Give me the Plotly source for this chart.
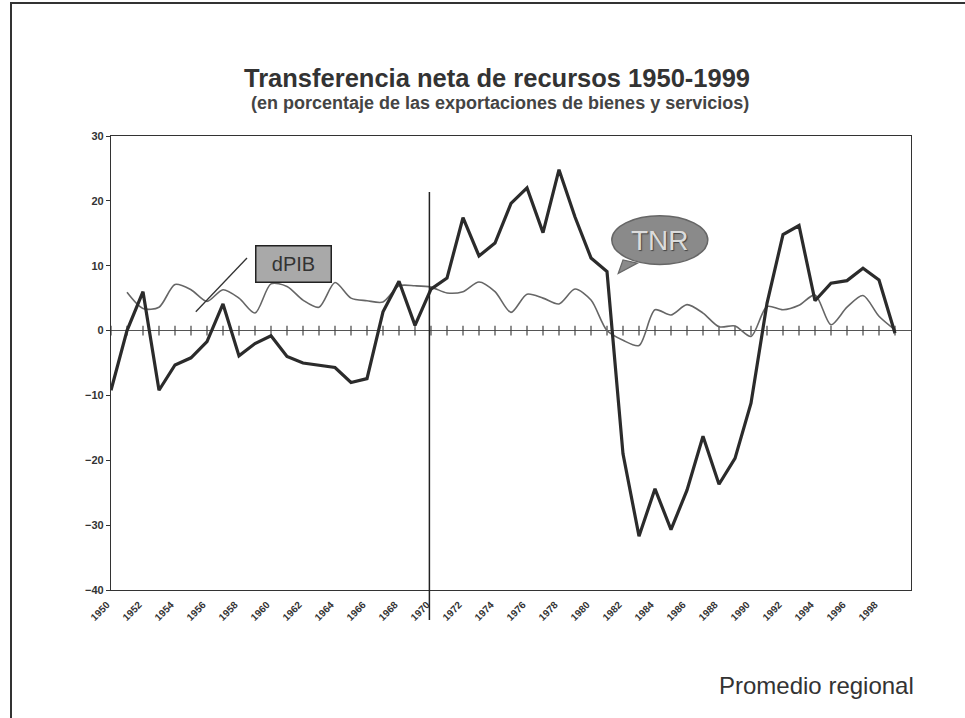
import plotly.graph_objects as go

years = list(range(1950, 2000))

tnr = [-9.2, 0.0, 6.0, -9.2, -5.3, -4.2, -1.7, 4.1, -3.9, -2.0,
       -0.8, -4.0, -5.0, -5.3, -5.7, -8.0, -7.4, 2.9, 7.6, 0.8,
       6.4, 8.1, 17.4, 11.5, 13.5, 19.6, 22.0, 15.1, 24.8, 17.5,
       11.2, 9.1, -19.0, -31.7, -24.4, -30.7, -24.6, -16.3, -23.7, -19.7,
       -11.2, 4.2, 14.8, 16.2, 4.6, 7.3, 7.7, 9.6, 7.8, -0.4]

dpib = [None, 5.9, 3.4, 3.6, 7.1, 6.3, 4.5, 6.3, 5.0, 2.7,
        7.2, 6.8, 4.7, 3.6, 7.4, 5.0, 4.6, 4.4, 6.9, 6.9,
        6.7, 5.8, 6.0, 7.5, 6.0, 2.8, 5.6, 5.0, 4.1, 6.4,
        4.7, 0.0, -1.5, -2.3, 3.2, 2.4, 4.0, 2.7, 0.6, 0.7,
        -0.9, 3.7, 3.2, 3.9, 5.5, 0.9, 3.6, 5.4, 2.2, 0.1]

x_tick_vals = list(range(1950, 2000, 2))
x_tick_text = [str(y) for y in x_tick_vals]
y_tick_vals = [-40, -30, -20, -10, 0, 10, 20, 30]

title_text = "Transferencia neta de recursos 1950-1999"
subtitle_text = "(en porcentaje de las exportaciones de bienes y servicios)"
footer_text = "Promedio regional"

FONT = "Liberation Sans, Arial, sans-serif"

W, H = 965, 718
L, R, T, B = 111, 54, 136, 128
PW = W - L - R
PH = H - T - B


def px_x(x):
    return (x - L) / PW


def px_y(y):
    return 1 + (T - y) / PH


fig = go.Figure()

# tick marks crossing the zero axis
fig.add_trace(go.Scatter(
    x=years, y=[0] * len(years), mode="markers",
    marker=dict(symbol="line-ns", size=7, line=dict(width=1.2, color="#444")),
    hoverinfo="skip", showlegend=False))

fig.add_trace(go.Scatter(
    x=years, y=dpib, mode="lines", name="dPIB",
    line=dict(color="#666666", width=1.6, shape="spline", smoothing=0.8),
    connectgaps=False, showlegend=False))

fig.add_trace(go.Scatter(
    x=years, y=tnr, mode="lines", name="TNR",
    line=dict(color="#2b2b2b", width=3.2),
    showlegend=False))

fig.update_layout(
    width=W, height=H,
    margin=dict(l=L, r=R, t=T, b=B),
    paper_bgcolor="white", plot_bgcolor="white",
    font=dict(family=FONT, color="#333"),
    xaxis=dict(range=[1950, 2000], tickvals=x_tick_vals, ticktext=x_tick_text,
               tickangle=-45, tickfont=dict(size=10, weight="bold", color="#333"),
               showgrid=False, zeroline=False, showline=True, mirror=True,
               linecolor="#333", linewidth=1.3, ticks="", ticklabelstandoff=4,
               ticklabelshift=-4),
    yaxis=dict(range=[-40, 30], tickvals=y_tick_vals,
               tickfont=dict(size=11, weight="bold", color="#333"),
               showgrid=False, zeroline=True, zerolinecolor="#555", zerolinewidth=1.2,
               showline=True, mirror=True, linecolor="#333", linewidth=1.3,
               ticks="outside", ticklen=4, tickcolor="#333"),
)

annotations = [
    dict(text=title_text, x=px_x(497), y=px_y(78), xref="paper", yref="paper",
         showarrow=False, yanchor="middle",
         font=dict(size=25.5, weight="bold", color="#333")),
    dict(text=subtitle_text, x=px_x(500), y=px_y(103), xref="paper", yref="paper",
         showarrow=False, yanchor="middle",
         font=dict(size=18, weight="bold", color="#444")),
    dict(text=footer_text, x=px_x(916), y=px_y(685), xref="paper", yref="paper",
         showarrow=False, xanchor="right", yanchor="middle",
         font=dict(size=24, color="#333")),
    dict(text="dPIB", x=1961.4, y=10.2, xref="x", yref="y", showarrow=False,
         bgcolor="#a9a9a9", bordercolor="#222", borderwidth=1.5, borderpad=3,
         width=68, height=29, font=dict(size=20, color="#333")),
    dict(text="TNR", x=1984.3, y=13.95, xref="x", yref="y", showarrow=False,
         font=dict(size=28, color="#dcdcdc", shadow="1px 1px 1px #444")),
]
fig.update_layout(annotations=annotations)

shapes = [
    # outer frame
    dict(type="rect", xref="paper", yref="paper",
         x0=px_x(11), x1=px_x(990), y0=px_y(740), y1=px_y(3),
         line=dict(color="#333", width=2)),
    # vertical divider at 1970
    dict(type="line", xref="x", yref="paper", x0=1969.9, x1=1969.9,
         y0=px_y(620), y1=px_y(192),
         line=dict(color="#222", width=1.5)),
    # dPIB pointer
    dict(type="line", xref="x", yref="y", x0=1955.3, y0=2.9, x1=1958.5, y1=11.2,
         line=dict(color="#333", width=1.3)),
    # TNR bubble
    dict(type="circle", xref="x", yref="y", x0=1981.3, x1=1987.3, y0=10.2, y1=17.7,
         fillcolor="#8a8a8a", line=dict(color="#666", width=1.5), layer="above"),
    dict(type="path", xref="x", yref="y",
         path="M 1982.0,10.9 L 1981.7,8.8 L 1982.9,10.4 Z",
         fillcolor="#8a8a8a", line=dict(color="#666", width=1.2), layer="above"),
]
fig.update_layout(shapes=shapes)

fig.write_html("out.html",
               config={"displayModeBar": False},
               post_script="document.body.style.margin='0';document.body.style.overflow='hidden';")
